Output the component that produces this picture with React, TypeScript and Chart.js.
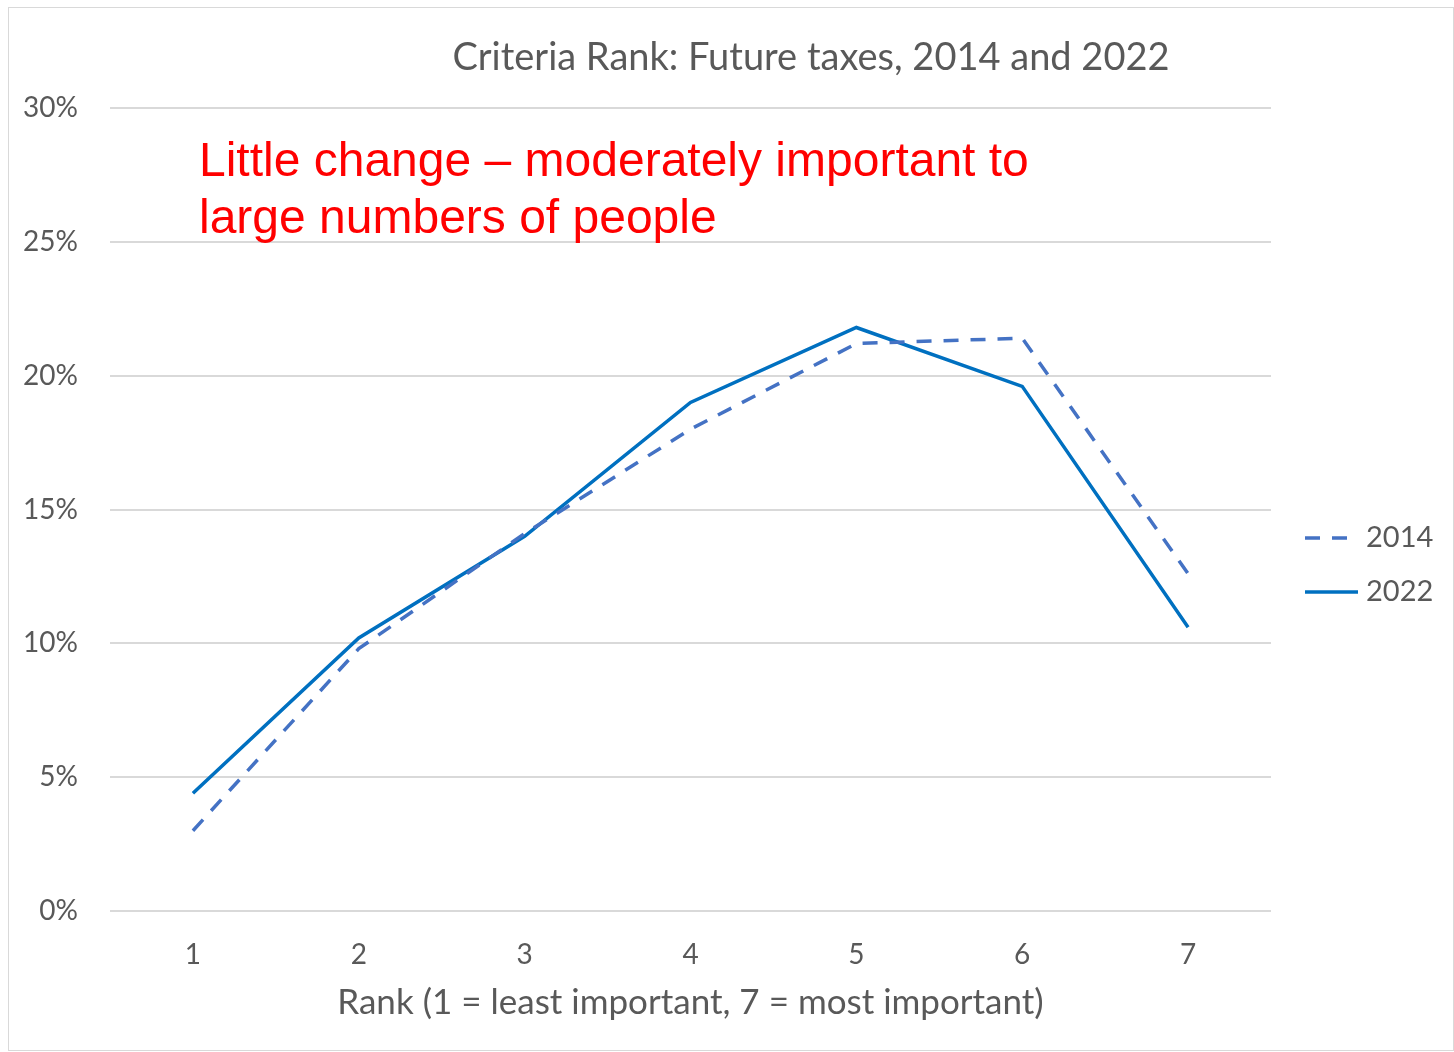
import React, { useEffect, useRef } from "react";
import { Chart, registerables } from "chart.js";

Chart.register(...registerables);

const categories = ["1", "2", "3", "4", "5", "6", "7"];
const series2014 = [3.0, 9.8, 14.1, 18.0, 21.2, 21.4, 12.6];
const series2022 = [4.4, 10.2, 14.0, 19.0, 21.8, 19.6, 10.6];
const seriesNames = ["2014", "2022"];
const yMin = 0;
const yMax = 30;
const yStep = 5;
const titleText = "Criteria Rank: Future taxes, 2014 and 2022";
const xAxisTitle = "Rank (1 = least important, 7 = most important)";
const noteLines = ["Little change – moderately important to", "large numbers of people"];

const GRAY_TEXT = "#595959";
const GRID = "#d9d9d9";

const overlayPlugin = {
  id: "overlay",
  afterDraw(chart: any) {
    const { ctx } = chart;
    ctx.save();
    // Title
    ctx.fillStyle = GRAY_TEXT;
    ctx.font = '38px Lato';
    ctx.textAlign = "center";
    ctx.textBaseline = "alphabetic";
    ctx.fillText(titleText, 811, 70);

    // Red note
    ctx.fillStyle = "#ff0000";
    ctx.font = '48px "Liberation Sans"';
    ctx.textAlign = "left";
    ctx.fillText(noteLines[0], 199, 176);
    ctx.fillText(noteLines[1], 199, 233);

    // Legend
    chart.data.datasets.forEach((ds: any, i: number) => {
      const y = 538 + i * 54;
      ctx.beginPath();
      ctx.strokeStyle = ds.borderColor;
      ctx.lineWidth = ds.borderWidth;
      ctx.setLineDash(ds.borderDash || []);
      ctx.moveTo(1305, y);
      ctx.lineTo(1358, y);
      ctx.stroke();
      ctx.setLineDash([]);
      ctx.fillStyle = GRAY_TEXT;
      ctx.font = '29px Lato';
      ctx.textAlign = "left";
      ctx.textBaseline = "middle";
      ctx.fillText(ds.label, 1366, y);
    });
    ctx.restore();
  },
};

export default function App() {
  const canvasRef = useRef<HTMLCanvasElement | null>(null);

  useEffect(() => {
    const canvas = canvasRef.current;
    if (!canvas) return;
    const chart = new Chart(canvas, {
      type: "line",
      data: {
        labels: categories,
        datasets: [
          {
            label: seriesNames[0],
            data: series2014,
            borderColor: "#4472C4",
            backgroundColor: "#4472C4",
            borderWidth: 3.5,
            borderDash: [15, 12],
            pointRadius: 0,
            tension: 0,
            fill: false,
          },
          {
            label: seriesNames[1],
            data: series2022,
            borderColor: "#0070C0",
            backgroundColor: "#0070C0",
            borderWidth: 3.5,
            pointRadius: 0,
            tension: 0,
            fill: false,
          },
        ],
      },
      options: {
        responsive: false,
        animation: false,
        layout: { padding: { top: 108, right: 183, left: 0, bottom: 0 } },
        plugins: {
          legend: { display: false },
          title: { display: false },
          tooltip: { enabled: false },
        },
        scales: {
          x: {
            offset: true,
            grid: { display: false, drawTicks: false },
            border: { display: false },
            ticks: {
              color: GRAY_TEXT,
              font: { family: "Lato", size: 28 },
              padding: 27,
            },
            title: {
              display: true,
              text: xAxisTitle,
              color: GRAY_TEXT,
              font: { family: "Lato", size: 35 },
              padding: { top: 0, bottom: 28 },
            },
            afterFit: (scale: any) => {
              scale.height = 141;
            },
          },
          y: {
            min: yMin,
            max: yMax,
            grid: { color: GRID, lineWidth: 2, drawTicks: false },
            border: { display: false },
            ticks: {
              stepSize: yStep,
              color: GRAY_TEXT,
              font: { family: "Lato", size: 28 },
              padding: 32,
              callback: (v: any) => `${v}%`,
            },
            afterFit: (scale: any) => {
              scale.width = 110;
            },
          },
        },
      },
      plugins: [overlayPlugin],
    });
    return () => chart.destroy();
  }, []);

  return (
    <div style={{ position: "fixed", left: 0, top: 0, width: 1454, height: 1052, background: "#fff" }}>
      <canvas ref={canvasRef} width={1454} height={1052} style={{ width: 1454, height: 1052, display: "block" }} />
      <div
        style={{
          position: "absolute",
          left: 8,
          top: 7,
          width: 1444,
          height: 1042,
          border: "1px solid #d9d9d9",
          pointerEvents: "none",
        }}
      />
    </div>
  );
}
